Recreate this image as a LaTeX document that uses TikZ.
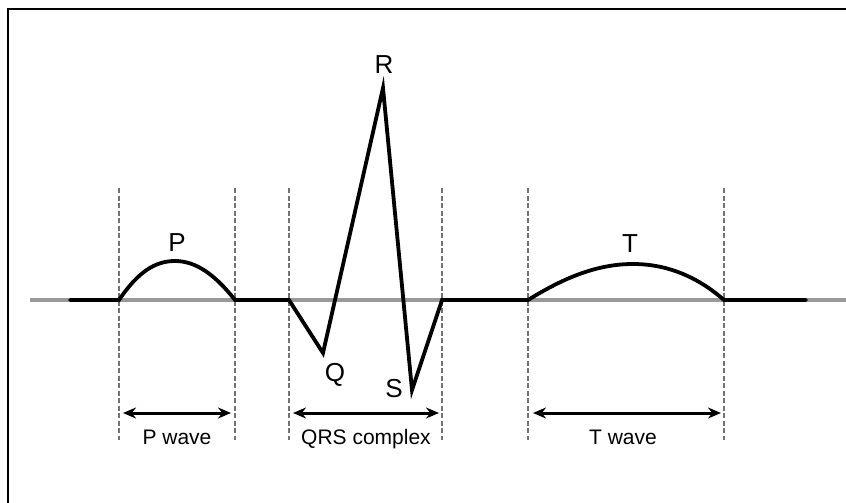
\documentclass[tikz,border=0pt]{standalone}
\usepackage{fontspec}
\setmainfont{Liberation Sans}
\usetikzlibrary{arrows.meta}
\begin{document}
\begin{tikzpicture}[x=1pt,y=-1pt,
  frameline/.style={line width=1.6pt,black},
  baseline gray/.style={line width=3.6pt,color=gray!80},
  signal/.style={line width=3.8pt,black,line join=miter,line cap=round},
  guide/.style={line width=2.6pt,color=gray!110!white,dash pattern=on 5pt off 2.5pt},
  span/.style={line width=3pt,black,{Stealth[length=13pt,width=11pt]}-{Stealth[length=13pt,width=11pt]}},
  peaklabel/.style={font=\fontsize{26}{30}\selectfont,inner sep=0pt,anchor=base},
  spanlabel/.style={font=\fontsize{21}{25}\selectfont,inner sep=0pt,anchor=base}]
\useasboundingbox (0,0) rectangle (846,503);
% frame
\draw[frameline] (8,503) -- (8,9) -- (846,9);
% gray baseline
\draw[baseline gray] (30,300) -- (846,300);
% key points
\coordinate (s0) at (70,300);
\coordinate (p0) at (119,300);
\coordinate (pk) at (175,261);
\coordinate (p1) at (235,300);
\coordinate (q0) at (289,300);
\coordinate (q) at (323,353);
\coordinate (r) at (383,88);
\coordinate (s) at (412,390);
\coordinate (q1) at (442,300);
\coordinate (t0) at (528,300);
\coordinate (tk) at (633,264);
\coordinate (t1) at (724,300);
\coordinate (s1) at (806,300);
% dashed guides
\foreach \n/\xx in {g1/119,g2/235,g3/289,g4/442,g5/528,g6/724}{
  \coordinate (\n a) at (\xx,188);
  \coordinate (\n b) at (\xx,440);
  \draw[guide] (\n a) -- (\n b);
}
% signal
\draw[signal] (s0) -- (p0)
  .. controls (138,272) and (155,261) .. (pk)
  .. controls (197,261) and (216,276) .. (p1)
  -- (q0) -- (q) -- (r) -- (s) -- (q1) -- (t0)
  .. controls (565,277) and (598,264) .. (tk)
  .. controls (670,264) and (700,279) .. (t1)
  -- (s1);
% span arrows
\coordinate (a1) at (123,413); \coordinate (a2) at (231,413);
\coordinate (b1) at (293,413); \coordinate (b2) at (439,413);
\coordinate (c1) at (533,413); \coordinate (c2) at (721,413);
\draw[span] (a1) -- (a2);
\draw[span] (b1) -- (b2);
\draw[span] (c1) -- (c2);
% peak labels
\node[peaklabel] (lP) at (177,251) {P};
\node[peaklabel] (lR) at (384,74) {R};
\node[peaklabel] (lQ) at (335,381) {Q};
\node[peaklabel] (lS) at (394,397) {S};
\node[peaklabel] (lT) at (630,252) {T};
% span labels
\node[spanlabel] (wP) at (177,444) {P wave};
\node[spanlabel] (wQRS) at (366,444) {QRS complex};
\node[spanlabel] (wT) at (623,444) {T wave};
\end{tikzpicture}
\end{document}
